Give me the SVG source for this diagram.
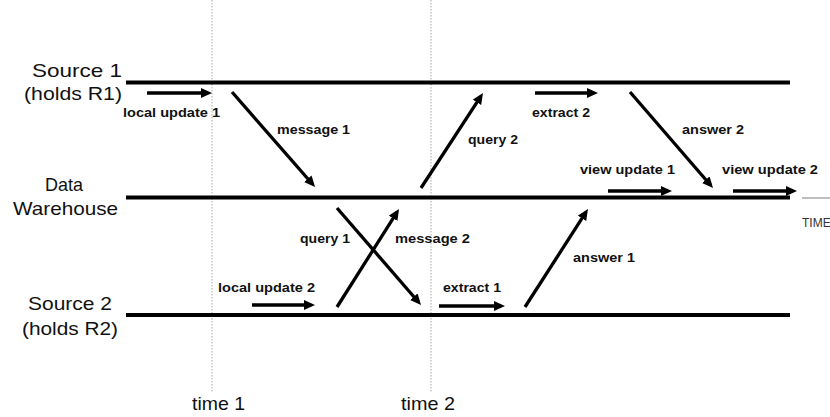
<svg xmlns="http://www.w3.org/2000/svg" width="830" height="417" viewBox="0 0 830 417">
<style>
.lane{stroke:#000;stroke-width:4;fill:none}
.big{font-family:"Liberation Sans",Arial,sans-serif;font-size:18.5px;fill:#111}
.lbl{font-family:"Liberation Sans",Arial,sans-serif;font-size:13px;font-weight:bold;fill:#111}
.arr{stroke:#000;stroke-width:3.3;fill:none;marker-end:url(#ah)}
.tl{stroke:#a8a8a8;stroke-width:1;stroke-dasharray:1.5 1.5;fill:none}
</style>
<defs>
<marker id="ah" markerUnits="userSpaceOnUse" markerWidth="12" markerHeight="11" refX="7" refY="5" orient="auto">
<path d="M0,0 L11,5 L0,10 z" fill="#000"/>
</marker>
</defs>
<rect width="830" height="417" fill="#fff"/>
<g id="timelines">
<line class="tl" x1="212" y1="0" x2="212" y2="392"/>
<line class="tl" x1="431" y1="0" x2="431" y2="392"/>
<text class="big" x="192" y="410" textLength="53" lengthAdjust="spacingAndGlyphs">time 1</text>
<text class="big" x="401" y="410" textLength="54" lengthAdjust="spacingAndGlyphs">time 2</text>
</g>
<g id="source1">
<text class="big" x="32" y="77" textLength="90" lengthAdjust="spacingAndGlyphs">Source 1</text>
<text class="big" x="24" y="100" textLength="98" lengthAdjust="spacingAndGlyphs">(holds R1)</text>
<line class="lane" x1="126" y1="82.5" x2="790" y2="82.5"/>
</g>
<g id="warehouse">
<text class="big" x="45" y="191" textLength="38" lengthAdjust="spacingAndGlyphs">Data</text>
<text class="big" x="13" y="215" textLength="105" lengthAdjust="spacingAndGlyphs">Warehouse</text>
<line class="lane" x1="126" y1="197.5" x2="790" y2="197.5"/>
</g>
<g id="source2">
<text class="big" x="28" y="310" textLength="84" lengthAdjust="spacingAndGlyphs">Source 2</text>
<text class="big" x="22" y="335" textLength="96" lengthAdjust="spacingAndGlyphs">(holds R2)</text>
<line class="lane" x1="126" y1="315" x2="790" y2="315"/>
</g>
<g id="time-axis">
<line x1="802" y1="198" x2="830" y2="198" stroke="#aaa" stroke-width="1.5"/>
<text x="802" y="227" font-family="'Liberation Sans',Arial,sans-serif" font-size="12" fill="#333">TIME</text>
</g>
<g id="connectors">
<line class="arr" x1="147" y1="93" x2="208" y2="93"/>
<line class="arr" x1="232" y1="92" x2="312.4" y2="184"/>
<line class="arr" x1="421" y1="188" x2="480.8" y2="96.4"/>
<line class="arr" x1="535" y1="93" x2="594" y2="93"/>
<line class="arr" x1="630" y1="92" x2="710.4" y2="185"/>
<line class="arr" x1="608" y1="191" x2="668" y2="191"/>
<line class="arr" x1="733" y1="191" x2="793" y2="191"/>
<line class="arr" x1="337" y1="307" x2="396.9" y2="212.4"/>
<line class="arr" x1="337" y1="208" x2="418.4" y2="302"/>
<line class="arr" x1="252" y1="305" x2="311" y2="305"/>
<line class="arr" x1="439" y1="306" x2="501" y2="306"/>
<line class="arr" x1="525" y1="307" x2="585.8" y2="212.4"/>
</g>
<g id="labels">
<text class="lbl" x="123" y="117" textLength="97" lengthAdjust="spacingAndGlyphs">local update 1</text>
<text class="lbl" x="277" y="134" textLength="73" lengthAdjust="spacingAndGlyphs">message 1</text>
<text class="lbl" x="468" y="144" textLength="50" lengthAdjust="spacingAndGlyphs">query 2</text>
<text class="lbl" x="532" y="117" textLength="58" lengthAdjust="spacingAndGlyphs">extract 2</text>
<text class="lbl" x="682" y="134" textLength="62" lengthAdjust="spacingAndGlyphs">answer 2</text>
<text class="lbl" x="580" y="174" textLength="95" lengthAdjust="spacingAndGlyphs">view update 1</text>
<text class="lbl" x="722" y="174" textLength="96" lengthAdjust="spacingAndGlyphs">view update 2</text>
<text class="lbl" x="300" y="243" textLength="50" lengthAdjust="spacingAndGlyphs">query 1</text>
<text class="lbl" x="395" y="243" textLength="75" lengthAdjust="spacingAndGlyphs">message 2</text>
<text class="lbl" x="573" y="262" textLength="62" lengthAdjust="spacingAndGlyphs">answer 1</text>
<text class="lbl" x="218" y="292" textLength="97" lengthAdjust="spacingAndGlyphs">local update 2</text>
<text class="lbl" x="443" y="292" textLength="58" lengthAdjust="spacingAndGlyphs">extract 1</text>
</g>
</svg>
